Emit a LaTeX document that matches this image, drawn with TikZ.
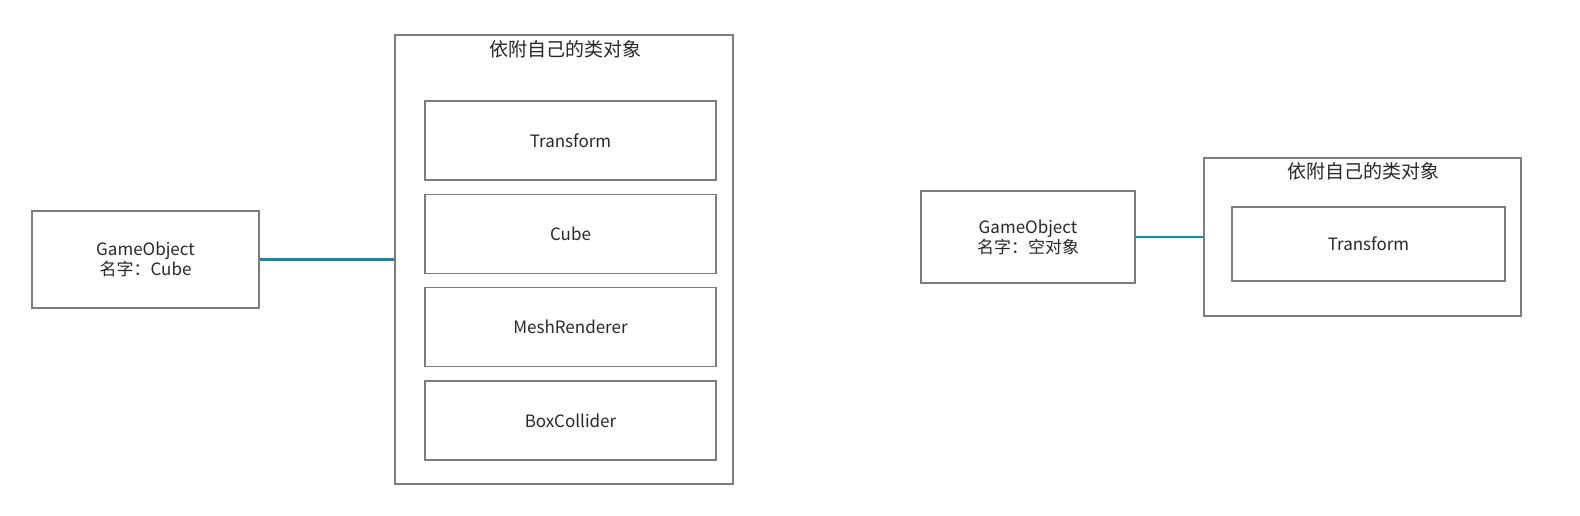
\documentclass[tikz,border=0pt]{standalone}
\usepackage{fontspec}
\setmainfont{Noto Sans CJK SC}
\usepackage{tikz}
\usepackage{xcolor}
\definecolor{box-gray}{RGB}{125,125,125}
\definecolor{link-teal}{RGB}{25,135,170}
\definecolor{text-gray}{RGB}{40,40,40}
\tikzset{
    go-box/.style = {draw=box-gray, fill=white, line width=1.2pt, rectangle, align=center, text=text-gray, font=\fontsize{17}{20}\selectfont},
    holder-box/.style = {draw=box-gray, fill=white, line width=1.2pt, rectangle},
    holder-title/.style = {text=text-gray, font=\fontsize{19}{22}\selectfont},
    comp-box/.style = {draw=box-gray, fill=white, line width=1.2pt, rectangle, text=text-gray, font=\fontsize{17}{20}\selectfont},
    link-line/.style = {draw=link-teal, line width=2.4pt},
}

\begin{document}
\begin{tikzpicture}[x=1pt, y=-1pt]
\useasboundingbox (0,0) rectangle (1580,516);
% left: cube
\node [go-box, minimum width=227pt, minimum height=97pt] (go-cube) at (145.5,259.5) {GameObject\\名字：Cube};
\node [holder-box, minimum width=338pt, minimum height=449pt] (holder-cube) at (564,259.5) {};
\node [holder-title] (title-cube) at (565,49) {依附自己的类对象};
\node [comp-box, minimum width=291pt, minimum height=79pt] (transform-cube) at (570.5,140.5) {Transform};
\node [comp-box, minimum width=291pt, minimum height=79pt] (cube) at (570.5,234) {Cube};
\node [comp-box, minimum width=291pt, minimum height=79pt] (mesh-renderer) at (570.5,327) {MeshRenderer};
\node [comp-box, minimum width=291pt, minimum height=79pt] (box-collider) at (570.5,420.5) {BoxCollider};
\draw [link-line] (go-cube.east) -- (holder-cube.west |- go-cube.east);
% right: empty object
\node [go-box, minimum width=214pt, minimum height=92pt] (go-empty) at (1028,237) {GameObject\\名字：空对象};
\node [holder-box, minimum width=317pt, minimum height=158pt] (holder-empty) at (1362.5,237) {};
\node [holder-title] (title-empty) at (1363,171) {依附自己的类对象};
\node [comp-box, minimum width=273pt, minimum height=74pt] (transform-empty) at (1368.5,244) {Transform};
\draw [link-line] (go-empty.east) -- (holder-empty.west |- go-empty.east);
\end{tikzpicture}
\end{document}
